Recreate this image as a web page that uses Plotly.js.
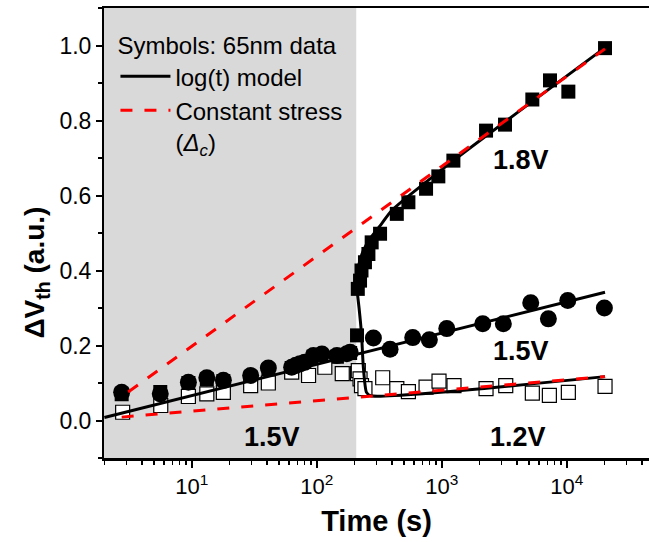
<!DOCTYPE html>
<html>
<head>
<meta charset="utf-8">
<script src="https://cdn.plot.ly/plotly-3.0.1.min.js"></script>
<style>html,body{margin:0;padding:0;background:#fff;}#chart{width:649px;height:542px;}</style>
</head>
<body>
<div id="chart"></div>
<script>
// Stress-phase window (1.5V for all devices), seconds
var shadeT = [1.9, 207];
var shadeY = [-0.1, 1.1];

// Filled circles: 1.5V throughout
var circT = [2.75, 5.6, 9.4, 13.2, 17.9, 29.6, 41, 63, 68, 73.5, 80, 94, 110, 145, 174, 185,
             284, 386, 586, 796, 1097, 2128, 3110, 5150, 7130, 10190, 20000];
var circY = [0.075, 0.071, 0.102, 0.114, 0.107, 0.12, 0.14, 0.142, 0.147, 0.151, 0.155, 0.173, 0.177, 0.173, 0.178, 0.182,
             0.22, 0.19, 0.221, 0.215, 0.245, 0.258, 0.258, 0.314, 0.271, 0.32, 0.30];

// Filled squares: 1.5V then 1.8V
var fsqT = [2.75, 5.6, 9.4, 13.2, 17.9, 29.6, 41, 63, 94, 145, 185,
            210, 213, 222, 228, 243, 259, 275, 321, 437, 541, 749, 939, 1239, 2261, 3208, 5305, 7345, 10300, 20240];
var fsqY = [0.07, 0.076, 0.1, 0.11, 0.105, 0.115, 0.135, 0.14, 0.17, 0.17, 0.18,
            0.227, 0.351, 0.373, 0.40, 0.422, 0.444, 0.475, 0.498, 0.551, 0.582, 0.618, 0.651, 0.693, 0.773, 0.789, 0.856, 0.907, 0.877, 0.993];

// Open squares: 1.5V then 1.2V
var osqT = [2.8, 5.65, 9.4, 13.2, 17.9, 29.6, 41, 63, 86, 116, 160,
            212, 215, 222, 228, 243, 337, 437, 541, 749, 951, 1253, 2261, 3250, 5305, 7260, 10300, 20240];
var osqY = [0.022, 0.04, 0.064, 0.071, 0.075, 0.093, 0.10, 0.129, 0.12, 0.142, 0.125,
            0.125, 0.133, 0.111, 0.093, 0.085, 0.114, 0.085, 0.077, 0.089, 0.105, 0.093, 0.085, 0.093, 0.073, 0.067, 0.075, 0.091];

// log(t) model curves
var m15T = [2, 20240];
var m15Y = [0.008, 0.342];
var m18T = [208, 215, 236, 267, 331, 398, 1239, 19630];
var m18Y = [0.36, 0.409, 0.453, 0.485, 0.525, 0.56, 0.693, 0.991];
var m12T = [208, 218, 228, 236, 250, 270, 20240];
var m12Y = [0.36, 0.30, 0.231, 0.142, 0.075, 0.066, 0.117];

// Constant stress (Delta_c) lines
var c18T = [3.1, 20240];
var c18Y = [0.076, 0.991];
var c12T = [2.75, 20240];
var c12Y = [0.009, 0.117];

// Tick labels
var xTickVals = [10, 100, 1000, 10000];
var xTickText = ['10<sup>1</sup>', '10<sup>2</sup>', '10<sup>3</sup>', '10<sup>4</sup>'];

// Region labels
var regionLabels = ['1.5V', '1.2V', '1.8V', '1.5V'];
var regionLabelT = [43.9, 4074, 4266, 4266];
var regionLabelY = [-0.044, -0.044, 0.695, 0.185];

var FONT = 'Liberation Sans, Arial, sans-serif';

var traces = [
  {x: [shadeT[0], shadeT[1], shadeT[1], shadeT[0], shadeT[0]],
   y: [shadeY[0], shadeY[0], shadeY[1], shadeY[1], shadeY[0]],
   mode: 'lines', fill: 'toself', fillcolor: '#d9d9d9', line: {width: 0, color: '#d9d9d9'},
   hoverinfo: 'skip', showlegend: false},
  {x: fsqT, y: fsqY, mode: 'markers', showlegend: false,
   marker: {symbol: 'square', size: 14, color: '#000', line: {width: 0}}},
  {x: osqT, y: osqY, mode: 'markers', showlegend: false,
   marker: {symbol: 'square', size: 14, color: '#fff', line: {width: 1.2, color: '#000'}}},
  {x: circT, y: circY, mode: 'markers', showlegend: false,
   marker: {symbol: 'circle', size: 17, color: '#000', line: {width: 0}}},
  {x: m15T, y: m15Y, mode: 'lines', name: 'log(t) model', legendrank: 1,
   line: {color: '#000', width: 3}},
  {x: m18T, y: m18Y, mode: 'lines', showlegend: false, line: {color: '#000', width: 3, shape: 'spline', smoothing: 0.6}},
  {x: m12T, y: m12Y, mode: 'lines', showlegend: false, line: {color: '#000', width: 3, shape: 'spline', smoothing: 0.6}},
  {x: c18T, y: c18Y, mode: 'lines', name: 'Constant stress<br>(<i>Δ</i><sub><i>c</i></sub>)', legendrank: 2,
   line: {color: '#ff0000', width: 3, dash: '12px,12px'}},
  {x: c12T, y: c12Y, mode: 'lines', showlegend: false,
   line: {color: '#ff0000', width: 3, dash: '12px,12px'}}
];

var annotations = regionLabels.map(function (t, i) {
  return {x: Math.log10(regionLabelT[i]), y: regionLabelY[i], xref: 'x', yref: 'y', text: '<b>' + t + '</b>',
          showarrow: false, font: {family: FONT, size: 27, color: '#000'}, xanchor: 'center', yanchor: 'middle'};
});
annotations.push({x: -0.124, y: 0.413, xref: 'paper', yref: 'paper', textangle: -90,
  text: '<b>ΔV<sub>th</sub> (a.u.)</b>', showarrow: false, font: {family: FONT, size: 28, color: '#000'},
  xanchor: 'center', yanchor: 'middle'});

var layout = {
  width: 649, height: 542,
  margin: {l: 104, r: 0, t: 8, b: 84},
  paper_bgcolor: '#fff', plot_bgcolor: '#fff',
  font: {family: FONT, color: '#000'},
  showlegend: true,
  legend: {x: 0.021, y: 0.967, xanchor: 'left', yanchor: 'top', bgcolor: 'rgba(0,0,0,0)',
           font: {family: FONT, size: 24, color: '#000'}, valign: 'top',
           title: {text: 'Symbols: 65nm data', font: {family: FONT, size: 24, color: '#000'}},
           traceorder: 'normal', itemwidth: 50},
  xaxis: {type: 'log', range: [0.298, 4.658], showgrid: false, zeroline: false,
          showline: true, linewidth: 2.5, linecolor: '#000', mirror: true,
          ticks: 'outside', ticklen: 7, tickwidth: 2, tickcolor: '#000',
          tickmode: 'array', tickvals: xTickVals, ticktext: xTickText,
          tickfont: {family: FONT, size: 22, color: '#000'},
          minor: {ticks: 'outside', ticklen: 4, tickwidth: 1.5, tickcolor: '#000', dtick: 'D1', showgrid: false},
          title: {text: '<b>Time (s)</b>', font: {family: FONT, size: 29, color: '#000'}, standoff: 13}},
  yaxis: {range: [-0.1, 1.1], showgrid: false, zeroline: false, showline: true, linewidth: 2, linecolor: '#000',
          mirror: false, ticks: 'outside', ticklen: 6, tickwidth: 2, tickcolor: '#000', dtick: 0.2, tick0: 0,
          tickformat: '.1f', tickfont: {family: FONT, size: 23, color: '#000'},
          minor: {ticks: 'outside', ticklen: 4, tickwidth: 1.5, tickcolor: '#000', dtick: 0.1, showgrid: false}},
  annotations: annotations
};

Plotly.newPlot('chart', traces, layout, {displayModeBar: false, staticPlot: true});
</script>
</body>
</html>
